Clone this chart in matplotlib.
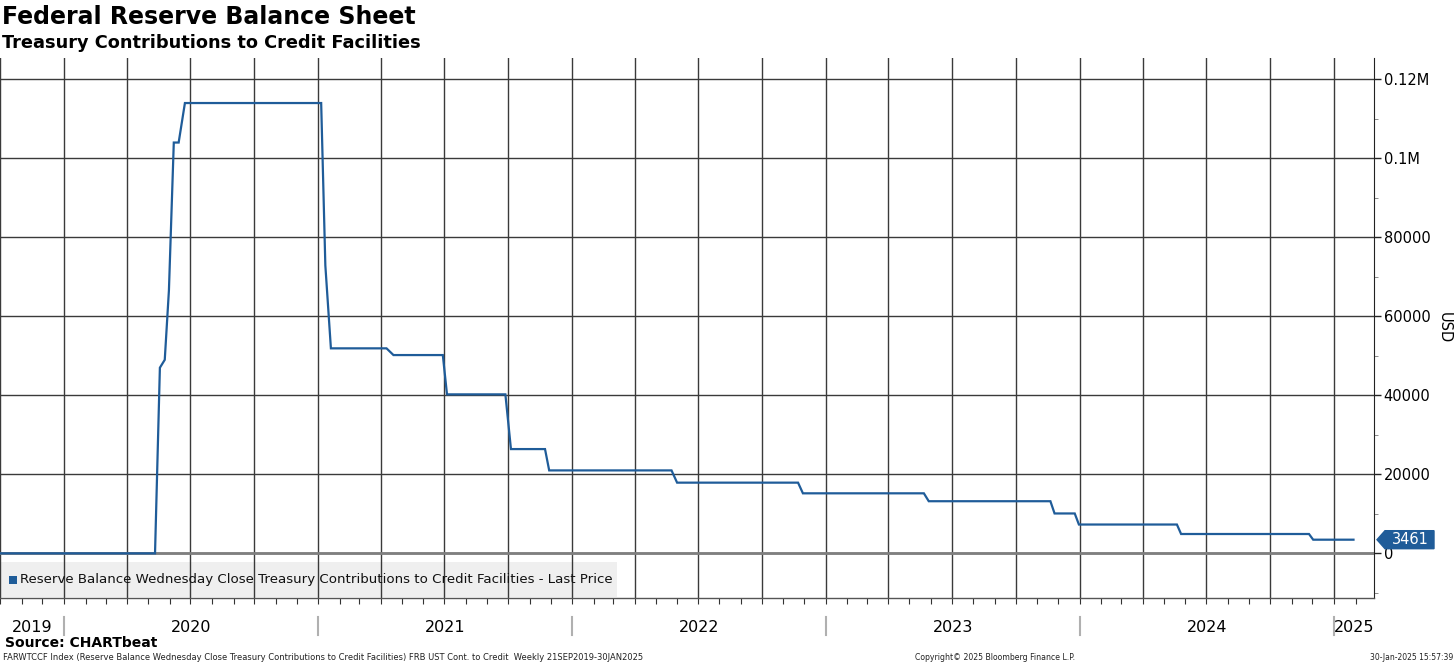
import matplotlib
matplotlib.use("Agg")
import matplotlib.pyplot as plt
import matplotlib.dates as mdates
from matplotlib.transforms import blended_transform_factory
from matplotlib.patches import Rectangle, Polygon
import numpy as np
import pandas as pd

# ---------------- data ----------------
dates = ["2019-09-25", "2020-05-11", "2020-05-18", "2020-05-25", "2020-05-31",
         "2020-06-07", "2020-06-14", "2020-06-23", "2021-01-05", "2021-01-11",
         "2021-01-19", "2021-04-09", "2021-04-19", "2021-06-29", "2021-07-05",
         "2021-09-27", "2021-10-05", "2021-11-23", "2021-11-29", "2022-05-24",
         "2022-06-01", "2022-11-22", "2022-11-29", "2023-05-22", "2023-05-29",
         "2023-11-20", "2023-11-26", "2023-12-25", "2023-12-31", "2024-05-20",
         "2024-05-26", "2024-11-26", "2024-12-02", "2025-01-29"]
values = [0, 0, 47000, 49000, 66600,
          104000, 104000, 114000, 114000, 72900,
          51900, 51900, 50200, 50200, 40250,
          40250, 26400, 26400, 21000, 21000,
          17900, 17900, 15200, 15200, 13200,
          13200, 10100, 10100, 7300, 7300,
          4900, 4900, 3461, 3461]
last_value = 3461
series_label = "Reserve Balance Wednesday Close Treasury Contributions to Credit Facilities - Last Price"
year_labels = ["2019", "2020", "2021", "2022", "2023", "2024", "2025"]
ytick_values = [0, 20000, 40000, 60000, 80000, 100000, 120000]
ytick_labels = ["0", "20000", "40000", "60000", "80000", "0.1M", "0.12M"]
unit_label = "USD"

title = "Federal Reserve Balance Sheet"
subtitle = "Treasury Contributions to Credit Facilities"
source = "Source: CHARTbeat"
footer_left = ("FARWTCCF Index (Reserve Balance Wednesday Close Treasury Contributions to Credit "
               "Facilities) FRB UST Cont. to Credit  Weekly 21SEP2019-30JAN2025")
footer_mid = "Copyright\u00a9 2025 Bloomberg Finance L.P."
footer_right = "30-Jan-2025 15:57:39"

# ---------------- figure ----------------
plt.rcParams['font.family'] = ['DejaVu Sans']
W, H = 1456, 665
fig = plt.figure(figsize=(W / 100, H / 100), dpi=100)
fig.patch.set_facecolor("white")

ax_left, ax_right, ax_top, ax_bot = 0, 1374, 58, 598
ax = fig.add_axes([ax_left / W, 1 - ax_bot / H, (ax_right - ax_left) / W, (ax_bot - ax_top) / H])

x = pd.to_datetime(dates)
line_color = "#1f5c99"
ax.plot(x, values, color=line_color, lw=1.6, zorder=3, solid_joinstyle="miter")

ax.set_xlim(pd.Timestamp("2019-10-01"), pd.Timestamp("2025-02-27 12:00"))
ax.set_ylim(-11300, 125400)

# gridlines
ax.set_axisbelow(True)
ax.xaxis.set_major_locator(mdates.MonthLocator(bymonth=[1, 4, 7, 10]))
ax.xaxis.set_minor_locator(mdates.MonthLocator())
ax.xaxis.set_major_formatter(plt.NullFormatter())
ax.grid(True, which="major", axis="both", color="#3a3a3a", lw=1.0)
ax.tick_params(axis="x", which="both", direction="out", length=4, color="#333333", width=0.8)

ax.yaxis.tick_right()
ax.set_yticks(ytick_values)
ax.set_yticklabels(ytick_labels)
ax.set_yticks(np.arange(-10000, 125000, 10000), minor=True)
ax.tick_params(axis="y", which="major", direction="out", length=5, width=1, color="#222222",
               labelsize=10.5, pad=2)
ax.tick_params(axis="y", which="minor", direction="out", length=3, width=0.6, color="#777777")
fig.text(1444 / W, 1 - 328 / H, unit_label, rotation=-90, fontsize=10.5, ha="center", va="center")

# zero line
ax.axhline(0, color="#7f7f7f", lw=2.0, zorder=1)

for s in ["top", "left"]:
    ax.spines[s].set_visible(False)
ax.spines["right"].set_color("#222222")
ax.spines["bottom"].set_color("#555555")
ax.spines["bottom"].set_linewidth(1.0)

# legend box (drawn under gridlines)
axw = ax_right - ax_left
axh = ax_bot - ax_top
lx0, lx1, ly0, ly1 = 0, 617, 562, 597
ax.add_patch(Rectangle(((lx0 - ax_left) / axw, (ax_bot - ly1) / axh),
                       (lx1 - lx0) / axw, (ly1 - ly0) / axh,
                       transform=ax.transAxes, facecolor="#efefef", edgecolor="none", zorder=0.2))
ax.add_patch(Rectangle((9 / axw, (ax_bot - 584) / axh), 8 / axw, 8 / axh,
                       transform=ax.transAxes, facecolor=line_color, edgecolor="none", zorder=4))
ax.text(20 / axw, (ax_bot - 580) / axh, series_label,
        transform=ax.transAxes, fontsize=9.6, va="center", ha="left", color="#111111", zorder=4)

# last price tag
btr = blended_transform_factory(ax.transAxes, ax.transData)
hh = 9 / axh * (125400 + 11300)
p0 = 1 + 3 / axw
tag = Polygon([(p0, last_value), (p0 + 8 / axw, last_value + hh), (p0 + 57 / axw, last_value + hh),
               (p0 + 57 / axw, last_value - hh), (p0 + 8 / axw, last_value - hh)],
              closed=True, transform=btr, facecolor=line_color, edgecolor=line_color,
              clip_on=False, zorder=5)
ax.add_patch(tag)
ax.text(p0 + 33 / axw, last_value, f"{last_value}", transform=btr, color="white", fontsize=10.5,
        ha="center", va="center", zorder=6, clip_on=False)

# year labels and separators
tr = blended_transform_factory(ax.transData, fig.transFigure)
xmin, xmax = ax.get_xlim()
for i, yl in enumerate(year_labels):
    y = int(yl)
    a = max(mdates.date2num(pd.Timestamp(f"{y}-01-01")), xmin)
    b = min(mdates.date2num(pd.Timestamp(f"{y + 1}-01-01")), xmax)
    ax.text((a + b) / 2, 1 - 627 / H, yl, transform=tr, ha="center", va="center", fontsize=11.5)
    if y > 2019:
        sep = mdates.date2num(pd.Timestamp(f"{y}-01-01"))
        ax.plot([sep, sep], [1 - 617 / H, 1 - 635 / H], transform=tr, color="#b0b0b0", lw=1.5,
                clip_on=False)

# titles
fig.text(2 / W, 1 - 17 / H, title, fontsize=17, fontweight="bold", va="center", ha="left")
fig.text(2 / W, 1 - 43 / H, subtitle, fontsize=12.8, fontweight="bold", va="center", ha="left")

# footer
fig.text(5 / W, 1 - 643 / H, source, fontsize=10, fontweight="bold", va="center", ha="left")
fig.text(3 / W, 1 - 658 / H, footer_left, fontsize=6.0, va="center", ha="left", color="#222222")
fig.text(995 / W, 1 - 658 / H, footer_mid, fontsize=5.6, va="center", ha="center", color="#222222")
fig.text(1453 / W, 1 - 658 / H, footer_right, fontsize=5.5, va="center", ha="right", color="#222222")

fig.savefig("out.png", dpi=100)
